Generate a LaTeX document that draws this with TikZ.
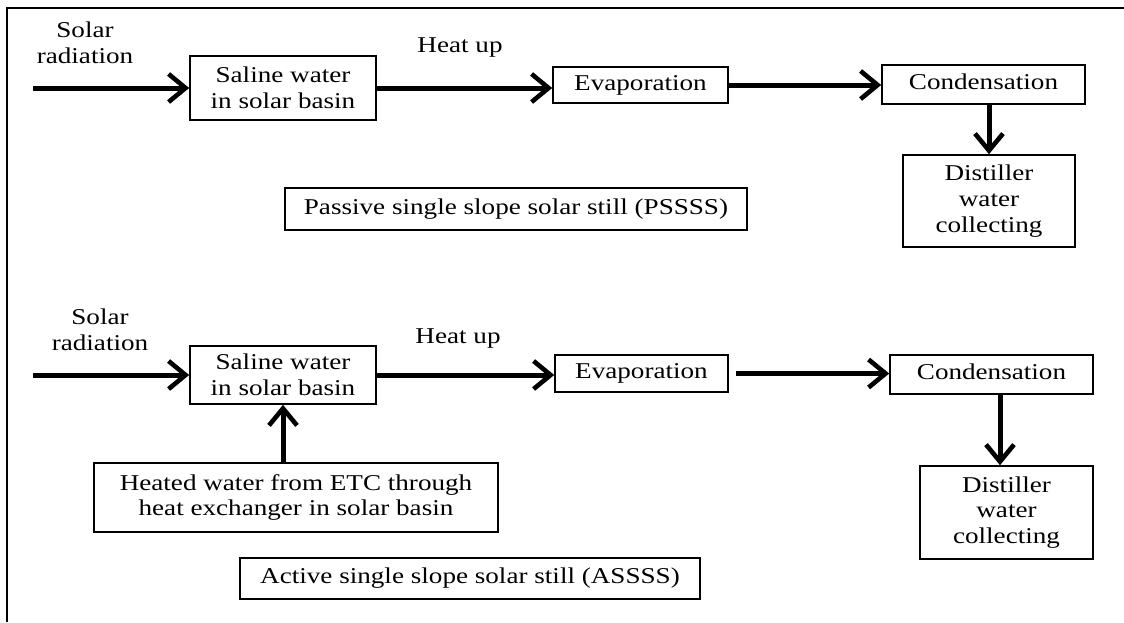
\documentclass[tikz,border=0pt]{standalone}
\usepackage{fontspec}
\setmainfont{Liberation Serif}[FakeStretch=1.2]
\usetikzlibrary{arrows.meta}
\begin{document}
\begin{tikzpicture}[x=0.5pt,y=-0.5pt,
  txt/.style={align=center, inner sep=0pt, font=\fontsize{11.3}{12.8}\selectfont},
  box/.style={txt, draw, line width=0.8pt},
  flow/.style={line width=2.5pt, -{Straight Barb[length=8.5pt,width=14pt,line width=2.3pt]}}]
\useasboundingbox (0,0) rectangle (1124,622);
% frame
\draw[line width=1.3pt] (7,622) -- (7,8) -- (1124,8);

% ---------- top: passive ----------
\node[txt] (solar1) at (85,43) {Solar\\radiation};
\node[box, minimum width=93pt, minimum height=32pt] (sw1) at (283,88) {Saline water\\in solar basin};
\node[txt] (heat1) at (460,48) {Heat up};
\node[box, minimum width=87.5pt, minimum height=18pt] (evap1) at (640.5,85) {Evaporation};
\node[box, minimum width=101.5pt, minimum height=19.5pt, text depth=3pt] (cond1) at (983.5,84.5) {Condensation};
\node[box, minimum width=86pt, minimum height=46pt] (dist1) at (989,201) {Distiller\\water\\collecting};
\node[box, minimum width=231pt, minimum height=21pt] (pass) at (516,209) {Passive single slope solar still (PSSSS)};

\coordinate (in1) at (33,88);
\draw[flow] (in1) -- (sw1.west);
\draw[flow] (sw1.east) -- (sw1.east -| evap1.west);
\draw[flow] (evap1.east) -- (evap1.east -| cond1.west);
\draw[flow] (dist1.north |- cond1.south) -- (dist1.north);

% ---------- bottom: active ----------
\node[txt] (solar2) at (100,330) {Solar\\radiation};
\node[box, minimum width=93pt, minimum height=29pt] (sw2) at (283,375) {Saline water\\in solar basin};
\node[txt] (heat2) at (458,338) {Heat up};
\node[box, minimum width=86.5pt, minimum height=18.5pt] (evap2) at (641.5,373.5) {Evaporation};
\node[box, minimum width=101.5pt, minimum height=19.5pt, text depth=3pt] (cond2) at (991.5,374.5) {Condensation};
\node[box, minimum width=86.5pt, minimum height=46.5pt] (dist2) at (1006.5,512.5) {Distiller\\water\\collecting};
\node[box, minimum width=202pt, minimum height=34.5pt] (heated) at (296,497.5) {Heated water from ETC through\\heat exchanger in solar basin};
\node[box, minimum width=230pt, minimum height=20.5pt] (act) at (470,578.5) {Active single slope solar still (ASSSS)};

\coordinate (in2) at (33,375);
\draw[flow] (in2) -- (sw2.west);
\draw[flow] (sw2.east) -- (sw2.east -| evap2.west);
\draw[flow] ([xshift=3.5pt]evap2.east) -- (evap2.east -| cond2.west);
\draw[flow] ([xshift=-3.25pt]dist2.north |- cond2.south) -- ([xshift=-3.25pt]dist2.north);
\draw[flow] (heated.north -| sw2.south) -- (sw2.south);
\end{tikzpicture}
\end{document}
